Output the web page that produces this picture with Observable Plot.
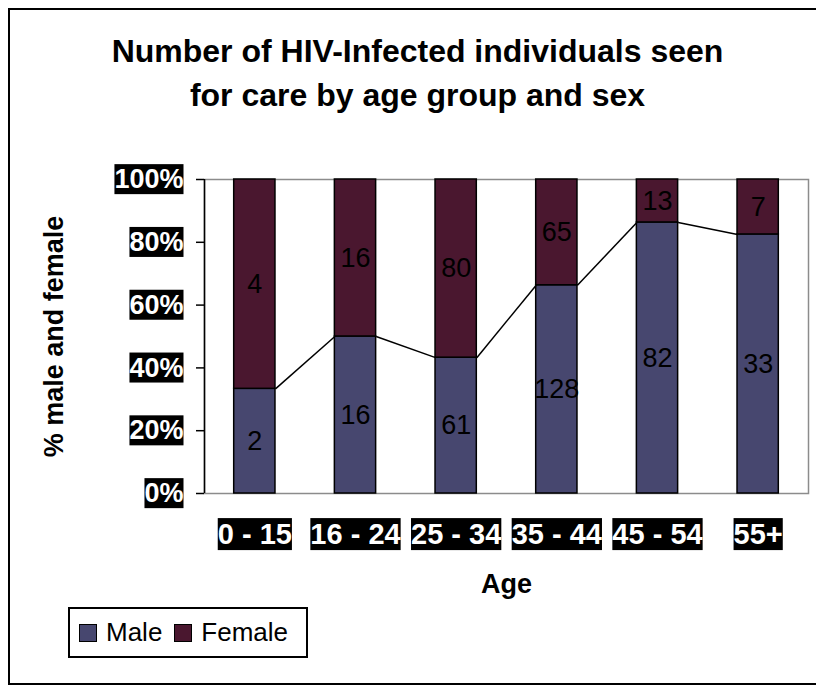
<!DOCTYPE html>
<html>
<head>
<meta charset="utf-8">
<script src="https://cdn.jsdelivr.net/npm/d3@7"></script>
<script src="https://cdn.jsdelivr.net/npm/@observablehq/plot@0.6"></script>
<style>
  html, body { margin: 0; padding: 0; background: #fff; overflow: hidden; }
  body { width: 816px; height: 696px; position: relative; font-family: "Liberation Sans", Arial, sans-serif; }
  #frame { position: absolute; left: 8px; top: 8px; width: 818px; height: 677px; border: 2px solid #000; box-sizing: border-box; }
  #title { position: absolute; left: 9px; width: 817px; top: 29px; text-align: center; font-weight: bold; font-size: 32px; line-height: 44px; color: #000; }
  #chart { position: absolute; left: 0; top: 150px; }
  #legend { position: absolute; left: 68px; top: 607px; width: 240px; height: 51px; border: 2px solid #000; box-sizing: border-box; display: flex; align-items: center; padding-left: 9px; }
  #legend .sw { width: 18px; height: 18px; border: 1.5px solid #000; box-sizing: border-box; margin-right: 9px; }
  #legend .lb { font-size: 26px; margin-right: 12px; color: #000; }
</style>
</head>
<body>
<div id="frame"></div>
<div id="title">Number of HIV-Infected individuals seen<br>for care by age group and sex</div>
<div id="chart"></div>
<div id="legend"></div>
<script>
const ages = ["0 - 15", "16 - 24", "25 - 34", "35 - 44", "45 - 54", "55+"];
const male = [2, 16, 61, 128, 82, 33];
const female = [4, 16, 80, 65, 13, 7];
const series = ["Male", "Female"];
const colors = ["#47476f", "#4a172f"];
const yTicks = [0, 0.2, 0.4, 0.6, 0.8, 1];

const W = 0.41; // bar width as fraction of band
const xDomain = [-0.5, ages.length - 0.5];

const share = male.map((m, i) => m / (m + female[i]));
const segments = [];
ages.forEach((a, i) => {
  segments.push({i, sex: "Male", y1: 0, y2: share[i], n: male[i]});
  segments.push({i, sex: "Female", y1: share[i], y2: 1, n: female[i]});
});
const pairs = d3.range(ages.length - 1).map(i => ({i, a: share[i], b: share[i + 1]}));

const chart = Plot.plot({
  width: 816,
  height: 470,
  marginLeft: 204,
  marginRight: 8,
  marginTop: 29,
  marginBottom: 127,
  style: {fontFamily: '"Liberation Sans", Arial, sans-serif', background: "transparent", overflow: "visible", color: "#000"},
  x: {domain: xDomain},
  y: {domain: [0, 1]},
  color: {domain: series, range: colors},
  marks: [
    Plot.frame({stroke: "#8c8c8c", strokeWidth: 1.5}),
    Plot.rect(segments, {
      x1: d => d.i - W / 2, x2: d => d.i + W / 2,
      y1: "y1", y2: "y2", fill: "sex", stroke: "#000", strokeWidth: 1.5
    }),
    Plot.link(pairs, {
      x1: d => d.i + W / 2, y1: "a",
      x2: d => d.i + 1 - W / 2, y2: "b",
      stroke: "#000", strokeWidth: 1.5
    }),
    Plot.text(segments, {x: "i", y: d => (d.y1 + d.y2) / 2, text: "n", fontSize: 27, fill: "#000"}),
    Plot.ruleX([xDomain[0]], {stroke: "#000", strokeWidth: 1.5}),
    Plot.axisY({ticks: yTicks, tickFormat: d3.format(".0%"), tickSize: 8, tickPadding: 13, fontSize: 27, fontWeight: "bold", label: null, stroke: "#000", strokeWidth: 1.5}),
    Plot.axisX({ticks: d3.range(ages.length), tickFormat: i => ages[i], tickSize: 0, tickPadding: 30, fontSize: 29, fontWeight: "bold", label: null}),
    Plot.text(["% male and female"], {frameAnchor: "left", textAnchor: "middle", dx: -150, rotate: -90, fontSize: 27, fontWeight: "bold", fill: "#000"}),
    Plot.text(["Age"], {frameAnchor: "bottom", dy: 99, fontSize: 27, fontWeight: "bold", fill: "#000"})
  ]
});

document.getElementById("chart").append(chart);

// black boxes behind tick labels
chart.querySelectorAll('g[aria-label="y-axis tick label"] text, g[aria-label="x-axis tick label"] text').forEach(t => {
  const bb = t.getBBox();
  const r = document.createElementNS("http://www.w3.org/2000/svg", "rect");
  r.setAttribute("x", bb.x);
  r.setAttribute("y", bb.y);
  r.setAttribute("width", bb.width);
  r.setAttribute("height", bb.height);
  r.setAttribute("fill", "#000");
  const tr = t.getAttribute("transform");
  if (tr) r.setAttribute("transform", tr);
  t.parentNode.insertBefore(r, t);
  t.setAttribute("fill", "#fff");
});

// legend
const legend = document.getElementById("legend");
series.forEach((s, k) => {
  const sw = document.createElement("div");
  sw.className = "sw";
  sw.style.background = colors[k];
  const lb = document.createElement("div");
  lb.className = "lb";
  lb.textContent = s;
  legend.append(sw, lb);
});
</script>
</body>
</html>
